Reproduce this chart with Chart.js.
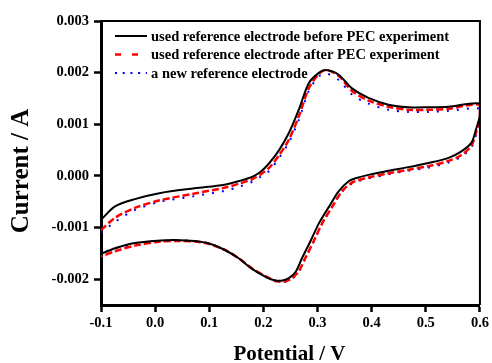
<!DOCTYPE html>
<html>
<head>
<meta charset="utf-8">
<script src="https://cdn.jsdelivr.net/npm/chart.js@4.4.1/dist/chart.umd.min.js"></script>
<style>
  html, body { margin: 0; padding: 0; background: #fff; }
  #cv { display: block; }
</style>
</head>
<body>
<canvas id="cv" width="492" height="363"></canvas>
<script>
// ─── data (potential V, current A) ───
const legendLabels = [
    'used reference electrode before PEC experiment',
    'used reference electrode after PEC experiment',
    'a new reference electrode',
];
const xTitle = 'Potential / V';
const yTitle = 'Current / A';

// before PEC: anodic sweep -0.1 → 0.6, then cathodic sweep 0.6 → -0.1
const beforePotential = [
    -0.1, -0.074, -0.0375, 0.010, 0.073, 0.128, 0.155, 0.179, 0.196, 0.211, 0.229, 0.247, 0.266, 0.284, 0.303, 0.315,
    0.339, 0.363, 0.394, 0.431, 0.468, 0.505, 0.542, 0.6,
    0.6, 0.593, 0.584, 0.565, 0.542, 0.505, 0.468, 0.431, 0.394, 0.372, 0.358, 0.339, 0.321, 0.303, 0.288, 0.271,
    0.260, 0.247, 0.233, 0.220, 0.205, 0.179, 0.155, 0.128, 0.1, 0.073, 0.036, 0.010, -0.0375, -0.074, -0.1,
];
const beforeCurrent = [
    -0.00085, -0.00059, -0.00045, -0.00033, -0.00024, -0.00017, -0.0001, -0.00002, 0.00009, 0.00025, 0.0005, 0.00083, 0.0013, 0.0018, 0.002, 0.00205,
    0.00196, 0.0017, 0.00151, 0.00138, 0.00133, 0.00133, 0.00134, 0.0014,
    0.00117, 0.00091, 0.00064, 0.00047, 0.00035, 0.00025, 0.00017, 0.0001, 0.00002, -0.00004, -0.0001, -0.0003, -0.0006, -0.00091, -0.00124, -0.0016,
    -0.00185, -0.00198, -0.00203, -0.00202, -0.00196, -0.0018, -0.0016, -0.00143, -0.00131, -0.00126, -0.00124, -0.00125, -0.0013, -0.0014, -0.00151,
];

const afterPotential = [
    -0.1, -0.074, -0.0375, 0.010, 0.073, 0.128, 0.155, 0.18, 0.196, 0.211, 0.229, 0.247, 0.266, 0.284, 0.303, 0.317,
    0.34, 0.363, 0.394, 0.431, 0.468, 0.505, 0.542, 0.6,
    0.6, 0.593, 0.584, 0.565, 0.542, 0.505, 0.468, 0.431, 0.394, 0.376, 0.362, 0.345, 0.327, 0.309, 0.294, 0.277,
    0.265, 0.252, 0.237, 0.222, 0.205, 0.179, 0.155, 0.128, 0.1, 0.073, 0.036, 0.010, -0.0375, -0.074, -0.1,
];
const afterCurrent = [
    -0.00105, -0.00081, -0.00062, -0.00047, -0.00034, -0.00023, -0.00015, -0.00006, 0.00004, 0.00016, 0.0004, 0.0007, 0.00117, 0.0017, 0.00198, 0.00205,
    0.00193, 0.00165, 0.00146, 0.00134, 0.00128, 0.00128, 0.0013, 0.00138,
    0.00112, 0.00085, 0.00058, 0.0004, 0.00029, 0.00019, 0.00012, 0.00005, -0.00003, -0.00008, -0.00014, -0.0003, -0.0006, -0.00091, -0.00124, -0.0016,
    -0.00185, -0.00199, -0.00205, -0.00203, -0.00195, -0.00179, -0.0016, -0.00143, -0.00132, -0.00127, -0.00126, -0.00127, -0.00135, -0.00146, -0.00156,
];

const newPotential = [
    -0.1, -0.074, -0.0375, 0.010, 0.073, 0.128, 0.155, 0.18, 0.196, 0.211, 0.229, 0.247, 0.266, 0.284, 0.303, 0.317,
    0.34, 0.363, 0.394, 0.431, 0.468, 0.505, 0.542, 0.6,
    0.6, 0.593, 0.584, 0.565, 0.542, 0.505, 0.468, 0.431, 0.394, 0.376, 0.362, 0.345, 0.327, 0.309, 0.294, 0.277,
    0.265, 0.252, 0.237, 0.222, 0.205, 0.179, 0.155, 0.128, 0.1, 0.073, 0.036, 0.010, -0.0375, -0.074, -0.1,
];
const newCurrent = [
    -0.0011, -0.00089, -0.00066, -0.0005, -0.00039, -0.00029, -0.00021, -0.00011, -0.00001, 0.0001, 0.00035, 0.00065, 0.0011, 0.00165, 0.00193, 0.00198,
    0.00185, 0.00158, 0.0014, 0.00128, 0.00124, 0.00124, 0.00126, 0.0013,
    0.0011, 0.0008, 0.00055, 0.00037, 0.00026, 0.00016, 0.0001, 0.00003, -0.00005, -0.0001, -0.00016, -0.00031, -0.0006, -0.00092, -0.00125, -0.00161,
    -0.00186, -0.002, -0.00206, -0.00204, -0.00196, -0.0018, -0.0016, -0.00143, -0.00131, -0.00126, -0.00125, -0.00126, -0.00133, -0.0014, -0.0015,
];

const xTicks = [-0.1, 0.0, 0.1, 0.2, 0.3, 0.4, 0.5, 0.6];
const yTicks = [-0.002, -0.001, 0.000, 0.001, 0.002, 0.003];

// ─── helpers ───

function toPoints(xs, ys) {
    return xs.map((x, i) => ({ x, y: ys[i] }));
}

const FONT = "'Liberation Serif', 'Times New Roman', serif";

// 위쪽/오른쪽 테두리, 범례, 축 제목
const framePlugin = {
    id: 'frame',
    afterDatasetsDraw(chart) {
        const { ctx, chartArea: a } = chart;
        ctx.save();
        ctx.strokeStyle = '#000';
        ctx.lineWidth = 2;
        ctx.beginPath();
        ctx.moveTo(a.left, a.top);
        ctx.lineTo(a.right, a.top);
        ctx.lineTo(a.right, a.bottom);
        ctx.stroke();

        // legend
        ctx.font = 'bold 14.5px ' + FONT;
        ctx.textBaseline = 'middle';
        ctx.fillStyle = '#000';
        chart.data.datasets.forEach((ds, i) => {
            const y = a.top + 15 + i * 18.5;
            ctx.strokeStyle = ds.borderColor;
            ctx.lineWidth = ds.borderWidth;
            ctx.setLineDash(ds.legendDash || []);
            ctx.beginPath();
            ctx.moveTo(a.left + 14, y);
            ctx.lineTo(a.left + 46, y);
            ctx.stroke();
            ctx.setLineDash([]);
            ctx.fillText(ds.label, a.left + 50, y + 1);
        });

        // axis titles
        ctx.textAlign = 'center';
        ctx.textBaseline = 'alphabetic';
        ctx.font = 'bold 21px ' + FONT;
        ctx.fillText(xTitle, (a.left + a.right) / 2 - 1, 360);
        ctx.translate(28, 171);
        ctx.rotate(-Math.PI / 2);
        ctx.font = 'bold 25px ' + FONT;
        ctx.fillText(yTitle, 0, 0);
        ctx.restore();
    },
};

const datasets = [
    { label: legendLabels[0], data: toPoints(beforePotential, beforeCurrent),
      borderColor: '#000000', borderWidth: 2, borderDash: [], legendDash: [] },
    { label: legendLabels[1], data: toPoints(afterPotential, afterCurrent),
      borderColor: '#ff0000', borderWidth: 2.5, borderDash: [7, 3], legendDash: [6, 11] },
    { label: legendLabels[2], data: toPoints(newPotential, newCurrent),
      borderColor: '#0000ff', borderWidth: 2, borderDash: [2, 8], legendDash: [2, 5.7] },
].map(d => ({ ...d, showLine: true, pointRadius: 0, tension: 0.3, fill: false }));

const tickFont = { family: FONT, size: 14.5, weight: 'bold' };

new Chart(document.getElementById('cv').getContext('2d'), {
    type: 'scatter',
    data: { datasets },
    plugins: [framePlugin],
    options: {
        responsive: false,
        animation: false,
        layout: { padding: { left: 0, right: 10, top: 21, bottom: 0 } },
        plugins: { legend: { display: false }, tooltip: { enabled: false } },
        scales: {
            x: {
                type: 'linear', min: -0.1, max: 0.6,
                afterBuildTicks: (s) => { s.ticks = xTicks.map(v => ({ value: v })); },
                afterFit: (s) => { s.height = 58; },
                grid: { drawOnChartArea: false, tickLength: 7, tickWidth: 2.5, color: '#000' },
                border: { color: '#000', width: 3 },
                ticks: { color: '#000', font: tickFont, padding: 3, maxRotation: 0,
                         callback: (v) => v.toFixed(1) },
            },
            y: {
                type: 'linear', min: -0.0025, max: 0.003,
                afterBuildTicks: (s) => { s.ticks = yTicks.map(v => ({ value: v })); },
                afterFit: (s) => { s.width = 101; },
                grid: { drawOnChartArea: false, tickLength: 7, tickWidth: 2.5, color: '#000' },
                border: { color: '#000', width: 3 },
                ticks: { color: '#000', font: tickFont, padding: 5,
                         callback: (v) => v.toFixed(3) },
            },
        },
    },
});
</script>
</body>
</html>
